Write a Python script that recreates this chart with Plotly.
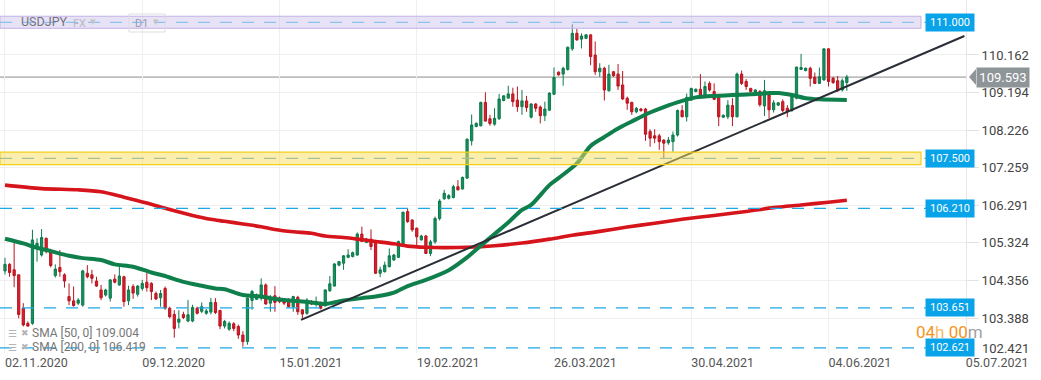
import plotly.graph_objects as go

# ---------------- data ----------------
opens = [104.60,104.77,104.63,104.50,103.64,103.25,103.25,105.18,105.01,105.44,
         105.11,104.48,104.69,104.50,103.94,103.83,103.77,103.72,104.54,104.50,
         104.34,104.11,103.98,103.90,104.39,104.24,104.45,103.83,104.20,104.00,
         104.15,104.31,104.28,104.02,103.91,104.15,103.64,103.48,103.28,103.48,
         103.31,103.31,103.64,103.56,103.51,103.54,103.79,103.58,103.18,103.10,
         103.24,103.17,102.95,102.78,103.84,103.87,103.90,104.24,103.77,103.96,
         103.90,103.83,103.81,103.68,103.92,103.60,103.51,103.81,103.77,103.79,
         103.70,104.09,104.21,104.75,104.80,104.95,104.97,105.01,105.55,105.33,
         105.42,105.36,104.54,104.58,104.71,104.88,104.95,105.30,106.13,105.91,
         105.70,105.40,105.50,105.05,105.35,105.95,106.46,106.47,106.49,106.77,
         106.71,106.99,107.95,108.32,108.34,108.94,108.52,108.38,108.52,108.99,
         109.05,109.16,109.00,108.83,108.98,108.56,108.90,108.82,108.60,108.74,
         109.15,109.72,109.67,109.79,110.32,110.72,110.57,110.59,110.68,110.16,
         109.73,109.82,109.24,109.73,109.67,109.39,109.05,108.94,108.70,108.77,
         108.77,108.19,108.08,108.08,107.97,107.90,107.93,108.10,108.73,108.57,
         109.00,109.22,109.28,109.09,109.43,109.22,109.07,108.56,108.57,108.86,
         108.57,109.67,109.48,109.30,109.18,109.22,108.85,109.13,108.75,108.87,
         108.96,108.79,108.73,109.05,109.79,109.76,109.82,109.59,109.43,109.52,
         110.32,109.56,109.50,109.26,109.45]
highs = [104.94,104.80,105.34,104.51,103.77,103.30,105.66,105.44,105.68,105.46,
         105.17,104.77,105.14,104.54,104.28,104.20,103.90,104.63,104.75,104.63,
         104.45,104.24,104.14,104.39,104.51,104.77,104.48,104.22,104.26,104.24,
         104.37,104.56,104.31,104.07,104.11,104.20,103.68,103.59,103.59,103.55,
         103.85,103.73,103.68,103.79,103.62,103.91,103.90,103.60,103.34,103.30,
         103.28,103.22,103.05,103.95,104.11,104.02,104.41,104.28,103.98,104.21,
         103.94,103.87,103.90,103.96,103.96,103.61,103.90,103.85,103.94,103.81,
         104.13,104.47,104.80,104.86,105.01,105.16,105.10,105.59,105.74,105.45,
         105.67,105.40,104.71,104.84,105.18,105.04,105.38,106.13,106.21,105.93,
         105.72,105.53,105.53,105.40,106.00,106.45,106.69,106.58,106.82,106.94,
         107.03,108.02,108.63,108.43,108.96,109.20,108.62,108.79,109.16,109.12,
         109.37,109.32,109.35,109.26,109.11,108.92,108.92,108.86,108.96,109.20,
         109.84,109.74,109.86,110.38,110.95,110.83,110.72,110.70,110.69,110.51,
         109.95,109.86,109.91,109.75,109.93,109.75,109.09,108.96,108.82,108.80,
         108.80,108.25,108.25,108.13,107.99,108.05,108.19,108.76,108.87,109.17,
         109.32,109.30,109.67,109.48,109.48,109.43,109.09,108.63,109.00,109.05,
         109.71,109.76,109.54,109.32,109.28,109.26,109.52,109.18,109.00,108.95,
         109.02,108.87,109.18,109.86,110.19,109.84,109.86,109.71,109.84,110.33,
         110.33,109.60,109.62,109.56,109.65]
lows = [104.51,104.45,104.18,103.38,103.17,103.17,103.21,104.84,104.97,105.05,
        104.69,104.43,104.45,104.17,103.72,103.68,103.72,103.68,104.41,104.28,
        104.19,103.85,103.94,103.81,104.28,104.22,103.68,103.72,103.88,103.94,
        104.09,104.07,103.85,103.85,103.68,103.60,103.38,102.88,103.12,103.36,
        103.28,103.28,103.48,103.51,103.47,103.48,103.49,103.10,103.12,103.06,
        103.05,102.85,102.65,102.70,103.60,103.85,103.84,103.73,103.55,103.55,
        103.77,103.72,103.66,103.55,103.47,103.34,103.47,103.72,103.68,103.61,
        103.69,104.06,104.20,104.72,104.63,104.93,104.95,104.99,105.36,105.33,
        105.14,104.52,104.44,104.56,104.69,104.87,104.93,105.27,105.84,105.61,
        105.23,105.38,105.04,104.98,105.30,105.90,106.43,106.44,106.47,106.67,
        106.70,106.97,107.83,108.30,108.32,108.45,108.34,108.34,108.49,108.97,
        109.05,108.83,108.70,108.62,108.70,108.53,108.70,108.40,108.46,108.72,
        109.13,109.63,109.37,109.76,110.27,110.53,110.33,110.57,109.90,109.65,
        109.60,108.99,109.22,109.60,109.26,109.00,108.75,108.62,108.66,108.70,
        107.95,107.80,107.89,107.72,107.48,107.85,107.67,108.06,108.56,108.45,
        108.98,109.20,109.05,109.05,109.22,109.00,108.33,108.54,108.51,108.33,
        108.56,109.39,109.26,109.20,109.15,108.83,108.59,108.53,108.68,108.85,
        108.68,108.56,108.70,109.02,109.78,109.74,109.35,109.42,109.42,109.50,
        109.35,109.42,109.22,109.22,109.24]
closes = [104.77,104.56,104.48,103.48,103.21,103.18,105.40,105.31,105.46,105.10,
          104.74,104.65,104.58,104.34,103.83,103.71,103.85,104.60,104.45,104.41,
          104.21,103.91,104.11,104.37,104.31,104.47,103.81,104.11,104.03,104.21,
          104.28,104.17,104.07,103.88,104.02,103.64,103.42,103.12,103.36,103.40,
          103.47,103.66,103.51,103.68,103.57,103.79,103.53,103.18,103.30,103.25,
          103.12,102.95,102.78,103.90,104.07,103.96,104.24,103.75,103.90,103.79,
          103.81,103.77,103.68,103.94,103.55,103.49,103.85,103.75,103.81,103.64,
          104.11,104.27,104.78,104.84,104.99,105.01,105.07,105.55,105.36,105.42,
          105.23,104.54,104.63,104.75,104.99,105.01,105.36,106.11,105.87,105.66,
          105.48,105.50,105.05,105.35,105.95,106.40,106.60,106.54,106.77,106.69,
          107.01,107.99,108.36,108.40,108.94,108.46,108.40,108.53,109.03,109.11,
          109.16,108.96,108.83,108.98,108.81,108.90,108.79,108.60,108.77,109.18,
          109.58,109.65,109.82,110.36,110.72,110.55,110.65,110.68,110.12,109.73,
          109.82,109.26,109.67,109.63,109.36,109.03,108.92,108.70,108.79,108.73,
          108.12,108.02,108.02,107.93,107.89,107.97,108.10,108.73,108.57,109.07,
          109.30,109.28,109.11,109.35,109.26,109.02,108.57,108.61,108.87,108.57,
          109.67,109.43,109.35,109.22,109.26,108.88,109.24,108.75,108.93,108.93,
          108.73,108.70,109.13,109.85,109.84,109.82,109.56,109.43,109.60,110.32,
          109.48,109.45,109.24,109.50,109.593]
bars = list(range(len(closes)))

# moving averages (bar index, value)
sma50_idx = [0,4,6,10,14,17,21,24,28,32,35,39,43,46,48,52,56,59,63,67,70,74,78,81,85,88,92,
             97,101,104,107,110,113,115,119,121,125,128,131,134,137,141,144,148,151,156,159,
             163,167,169,172,175,178,184]
sma50_val = [105.43,105.31,105.23,105.11,104.99,104.93,104.88,104.77,104.71,104.56,104.47,104.32,
             104.22,104.15,104.13,103.98,103.94,103.88,103.83,103.79,103.75,103.84,103.90,103.94,
             104.04,104.21,104.37,104.62,104.95,105.25,105.55,105.85,106.17,106.30,106.81,106.99,
             107.37,107.82,108.05,108.27,108.45,108.68,108.82,108.98,109.07,109.11,109.13,109.15,
             109.18,109.18,109.13,109.05,109.02,109.00]
sma200_idx = [0,8,16,21,26,31,36,41,45,48,52,56,59,63,67,70,74,77,81,85,88,92,96,101,107,113,
              119,124,130,136,142,148,155,162,168,174,180,184]
sma200_val = [106.81,106.72,106.69,106.64,106.50,106.35,106.18,106.03,105.93,105.88,105.81,105.74,
              105.67,105.61,105.57,105.50,105.46,105.42,105.36,105.30,105.24,105.21,105.20,105.21,
              105.25,105.32,105.42,105.52,105.62,105.73,105.83,105.93,106.03,106.13,106.23,106.30,
              106.37,106.42]

trend_idx = [64.7, 209.7]
trend_val = [103.34, 110.65]

date_ticks = [0, 30, 60, 90, 120, 150, 180, 210]
date_labels = ["02.11.2020", "09.12.2020", "15.01.2021", "19.02.2021",
               "26.03.2021", "30.04.2021", "04.06.2021", "05.07.2021"]
price_ticks = [103.388, 104.356, 105.324, 106.291, 107.259, 108.226, 109.194, 110.162]
bottom_tick = 102.421

levels = [111.000, 107.500, 106.210, 103.651, 102.621]
last_price = 109.593
sma50_last = 109.004
sma200_last = 106.419

# ---------------- geometry helpers ----------------
W, H = 1041, 380
PW, PB = 966, 353           # plot width / bottom in px
Y0, Y1 = 102.487, 111.578   # price range
X0, X1 = -1.091, 210.05

def px(x):      # pixel x -> paper
    return x / PW
def py(y):      # pixel y -> paper
    return (PB - y) / PB

fig = go.Figure()

fig.add_trace(go.Scatter(x=sma200_idx, y=sma200_val, mode="lines",
                         line=dict(color="#d5141c", width=3.6, shape="spline", smoothing=0.8),
                         hoverinfo="skip"))
fig.add_trace(go.Scatter(x=sma50_idx, y=sma50_val, mode="lines",
                         line=dict(color="#0f7f4c", width=4, shape="spline", smoothing=0.8),
                         hoverinfo="skip"))
fig.add_trace(go.Candlestick(x=bars, open=opens, high=highs, low=lows, close=closes,
                             increasing=dict(line=dict(color="#0d7a4c", width=1), fillcolor="#16915c"),
                             decreasing=dict(line=dict(color="#b8141f", width=1), fillcolor="#d8202c"),
                             whiskerwidth=0, hoverinfo="skip"))
fig.add_trace(go.Scatter(x=trend_idx, y=trend_val, mode="lines",
                         line=dict(color="#2a2e36", width=2), hoverinfo="skip"))

shapes = []
xe = px(921)
# purple 111 zone
shapes.append(dict(type="rect", xref="paper", yref="y", x0=0, x1=xe, y0=110.85, y1=111.16,
                   fillcolor="rgba(205,190,238,0.45)", line=dict(color="#c2b2e4", width=1), layer="above"))
# yellow 107.5 zone
shapes.append(dict(type="rect", xref="paper", yref="y", x0=0, x1=xe, y0=107.34, y1=107.66,
                   fillcolor="rgba(250,222,90,0.5)", line=dict(color="#f3cf1a", width=1.2), layer="above"))
# current price line
shapes.append(dict(type="line", xref="paper", yref="y", x0=0, x1=1, y0=last_price, y1=last_price,
                   line=dict(color="#8c8c8c", width=1), layer="below"))
dash_cols = ["#8cc3ec", "#a9bf98", "#1fa7e6", "#1fa7e6", "#1fa7e6"]
for lv, col in zip(levels, dash_cols):
    shapes.append(dict(type="line", xref="paper", yref="y", x0=0, x1=px(926), y0=lv, y1=lv,
                       line=dict(color=col, width=1.3, dash="12px,10px"), layer="above"))
# arrow of the last-price tag
shapes.append(dict(type="path", xref="paper", yref="y",
                   path=f"M {px(969)},{last_price} L {px(976)},{last_price + 8/38.83} "
                        f"L {px(976)},{last_price - 8/38.83} Z",
                   fillcolor="#8d9598", line=dict(width=0), layer="above"))
# D1 box
shapes.append(dict(type="rect", xref="paper", yref="paper", x0=px(129), x1=px(165), y0=py(32), y1=py(14),
                   line=dict(color="#dddddd", width=1), fillcolor="rgba(0,0,0,0)", layer="above"))

ann = []
for lv in levels:
    ann.append(dict(xref="paper", yref="y", x=px(925), y=lv, xanchor="left", yanchor="middle",
                    text=f"{lv:.3f}", showarrow=False, bgcolor="#08a3e8", borderpad=2, width=44,
                    font=dict(family="Roboto", size=11, color="white")))
ann.append(dict(xref="paper", yref="y", x=px(976), y=last_price, xanchor="left", yanchor="middle",
                text=f"{last_price:.3f}", showarrow=False, bgcolor="#8d9598", borderpad=2, width=48,
                font=dict(family="Roboto", size=13, color="white")))
ann.append(dict(xref="paper", yref="paper", x=px(980), y=py(348), xanchor="left", yanchor="middle",
                text=f"{bottom_tick:.3f}", showarrow=False,
                font=dict(family="Roboto", size=13, color="#444444")))
ann.append(dict(xref="paper", yref="paper", x=px(914), y=py(332), xanchor="left", yanchor="middle",
                text="<span style='color:#f7941d'>04</span><span style='color:#f5b96a'>h </span>"
                     "<span style='color:#f7941d'>00</span><span style='color:#a0a0a0'>m</span>",
                showarrow=False, font=dict(family="Roboto", size=17)))
# legend rows
for row, (n, v) in enumerate([(50, sma50_last), (200, sma200_last)]):
    yy = py(333 + 14 * row)
    ann.append(dict(xref="paper", yref="paper", x=px(6), y=yy, xanchor="left", yanchor="middle",
                    text="☰", showarrow=False, font=dict(family="DejaVu Sans", size=10, color="#b5b5b5")))
    ann.append(dict(xref="paper", yref="paper", x=px(19), y=yy, xanchor="left", yanchor="middle",
                    text="✖", showarrow=False, font=dict(family="DejaVu Sans", size=9, color="#b5b5b5")))
    ann.append(dict(xref="paper", yref="paper", x=px(30), y=yy, xanchor="left", yanchor="middle",
                    text=f"SMA [{n}, 0] {v:.3f}", showarrow=False,
                    font=dict(family="Roboto", size=12, color="#777777")))
# header
ann.append(dict(xref="paper", yref="paper", x=px(19), y=py(22), xanchor="left", yanchor="middle",
                text="USDJPY", showarrow=False, font=dict(family="Roboto", size=12.5, color="#74747f")))
ann.append(dict(xref="paper", yref="paper", x=px(71), y=py(23), xanchor="left", yanchor="middle",
                text="FX", showarrow=False, font=dict(family="Roboto", size=11, color="#b8b8c0")))
ann.append(dict(xref="paper", yref="paper", x=px(88), y=py(21), xanchor="left", yanchor="middle",
                text="▾", showarrow=False, font=dict(family="DejaVu Sans", size=11, color="#c4c4c4")))
ann.append(dict(xref="paper", yref="paper", x=px(133), y=py(23), xanchor="left", yanchor="middle",
                text="D1", showarrow=False, font=dict(family="Roboto", size=11, color="#9a9aa6")))
ann.append(dict(xref="paper", yref="paper", x=px(151), y=py(22), xanchor="left", yanchor="middle",
                text="▾", showarrow=False, font=dict(family="DejaVu Sans", size=11, color="#c4c4c4")))

fig.update_layout(
    width=W, height=H, margin=dict(l=0, r=W - PW, t=0, b=H - PB),
    paper_bgcolor="white", plot_bgcolor="white", showlegend=False,
    shapes=shapes, annotations=ann,
    font=dict(family="Roboto"),
    xaxis=dict(range=[X0, X1], tickvals=date_ticks, ticktext=date_labels,
               ticklabelposition="outside right", showgrid=True, gridcolor="#efefef", gridwidth=1,
               zeroline=False, showline=False, ticks="", rangeslider=dict(visible=False),
               tickfont=dict(family="Roboto", size=12.5, color="#555555")),
    yaxis=dict(range=[Y0, Y1], side="right", tickvals=price_ticks,
               ticktext=[f"{t:.3f}" for t in price_ticks], showgrid=True, gridcolor="#efefef",
               zeroline=False, showline=True, linecolor="#e6e6e6", mirror=False,
               ticks="outside", ticklen=12, tickcolor="#e2e2e2",
               tickfont=dict(family="Roboto", size=13, color="#444444")),
)

fig.write_html("out.html", config={"displayModeBar": False},
               post_script="document.body.style.margin='0';document.body.style.overflow='hidden';")
